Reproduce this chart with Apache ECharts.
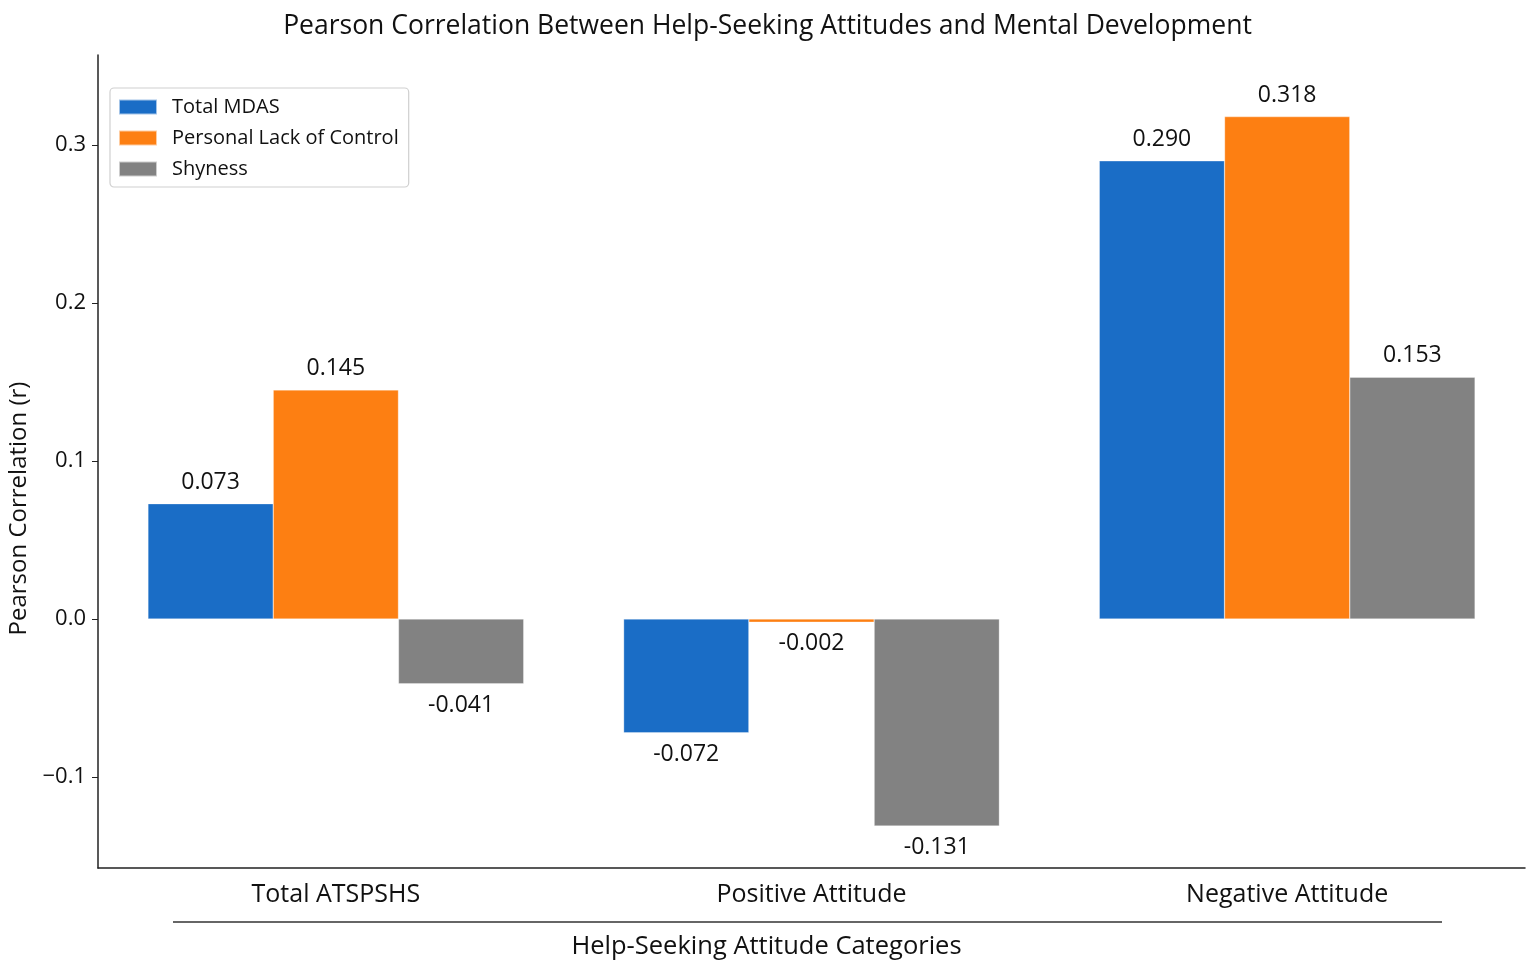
<!DOCTYPE html>
<html>
<head>
<meta charset="utf-8">
<title>Pearson Correlation</title>
<script src="https://cdn.jsdelivr.net/npm/echarts@6/dist/echarts.min.js"></script>
<style>
  html, body { margin: 0; padding: 0; background: #fff; }
  #chart { width: 1535px; height: 975px; }
</style>
</head>
<body>
<div id="chart"></div>
<script>
// data (values as printed on the bars)
var categories = ['Total ATSPSHS', 'Positive Attitude', 'Negative Attitude'];
var seriesNames = ['Total MDAS', 'Personal Lack of Control', 'Shyness'];
var totalMdas = [0.073, -0.072, 0.290];
var lackOfControl = [0.145, -0.002, 0.318];
var shyness = [-0.041, -0.131, 0.153];
var yTicks = [-0.1, 0.0, 0.1, 0.2, 0.3];

var colors = ['#1a6dc6', '#fd7f12', '#828282'];
var FONT = 'Open Sans';

function withLabels(values) {
    return values.map(function (v) {
        return {
            value: v,
            label: { position: v < 0 ? 'bottom' : 'top' }
        };
    });
}

function makeSeries(name, values, color) {
    return {
        name: name,
        type: 'bar',
        data: withLabels(values),
        barGap: '0%',
        barCategoryGap: '21%',
        itemStyle: { color: color, borderColor: 'rgba(255,255,255,0.6)', borderWidth: 0.5 },
        label: {
            show: true,
            distance: 10,
            fontFamily: FONT,
            fontSize: 23,
            color: '#111',
            formatter: function (p) { return p.value.toFixed(3); }
        },
        emphasis: { disabled: true }
    };
}

var myChart = echarts.init(document.getElementById('chart'));
var option = {
    backgroundColor: '#ffffff',
    animation: false,
    title: {
        text: 'Pearson Correlation Between Help-Seeking Attitudes and Mental Development',
        left: 'center',
        top: 8,
        textStyle: { fontFamily: FONT, fontWeight: 'normal', fontSize: 26.5, color: '#111' }
    },
    legend: {
        orient: 'vertical',
        left: 110,
        top: 88,
        padding: [9, 10, 8, 8],
        itemWidth: 38,
        itemHeight: 15,
        itemGap: 11,
        icon: 'rect',
        borderColor: '#d0d0d0',
        borderWidth: 1.2,
        borderRadius: 4,
        backgroundColor: 'rgba(255,255,255,0.85)',
        textStyle: { fontFamily: FONT, fontSize: 20, color: '#111', lineHeight: 20, padding: [0, 0, 0, 10] },
        data: seriesNames
    },
    grid: { left: 98, right: 10, top: 55, bottom: 107, outerBoundsMode: 'none' },
    xAxis: {
        type: 'category',
        data: categories,
        axisLine: { onZero: false, lineStyle: { color: '#222', width: 1.5 } },
        axisTick: { alignWithLabel: true, length: 5, lineStyle: { color: '#222' },
                    interval: function (i) { return i === 1; } },
        axisLabel: { fontFamily: FONT, fontSize: 25, color: '#111', margin: 14 },
        name: 'Help-Seeking Attitude Categories',
        nameLocation: 'middle',
        nameGap: 66,
        nameTextStyle: { fontFamily: FONT, fontSize: 25.5, color: '#111', padding: [0, 0, 0, -90] }
    },
    yAxis: {
        type: 'value',
        min: -0.1576,
        max: 0.357,
        axisLine: { show: true, lineStyle: { color: '#222', width: 1.5 } },
        axisTick: { show: true, length: 6, lineStyle: { color: '#222' }, customValues: yTicks },
        axisLabel: {
            fontFamily: FONT, fontSize: 22, color: '#111', margin: 12,
            customValues: yTicks,
            formatter: function (v) { return (v < 0 ? '\u2212' : '') + Math.abs(v).toFixed(1); }
        },
        splitLine: { show: false },
        name: 'Pearson Correlation (r)',
        nameLocation: 'middle',
        nameGap: 64,
        nameTextStyle: { fontFamily: FONT, fontSize: 24, color: '#111', padding: [0, 0, 0, -94] }
    },
    graphic: [{
        type: 'line',
        shape: { x1: 173, y1: 922, x2: 1442, y2: 922 },
        style: { stroke: '#333', lineWidth: 1.5 },
        silent: true
    }],
    series: [
        makeSeries(seriesNames[0], totalMdas, colors[0]),
        makeSeries(seriesNames[1], lackOfControl, colors[1]),
        makeSeries(seriesNames[2], shyness, colors[2])
    ]
};
myChart.setOption(option);
</script>
</body>
</html>
